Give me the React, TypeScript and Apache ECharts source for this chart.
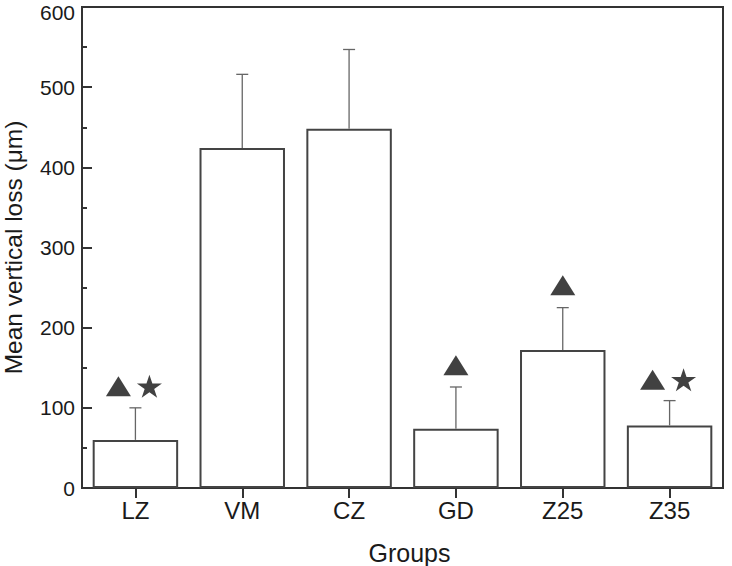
import React, { useEffect, useRef } from "react";
import * as echarts from "echarts";

const categories = ["LZ", "VM", "CZ", "GD", "Z25", "Z35"];
const means = [60, 424, 448, 74, 172, 78];
const sdUpper = [40, 92, 99, 52, 53, 31];
const yTicks = [0, 100, 200, 300, 400, 500, 600];
// significance markers: [categoryIndex, yValue]
const triangleSingle = [
  [3, 153],
  [4, 253],
];
const trianglePaired = [
  [0, 127],
  [5, 135],
];
const starPaired = [
  [0, 127],
  [5, 135],
];

const STAR =
  "path://M100,0 L122.45,69.1 L195.1,69.1 L136.3,111.8 L158.8,180.9 L100,138.2 L41.2,180.9 L63.7,111.8 L4.9,69.1 L77.55,69.1 Z";

const FONT = "'Liberation Sans', Arial, Helvetica, sans-serif";

export default function App() {
  const ref = useRef<HTMLDivElement>(null);
  useEffect(() => {
    if (!ref.current) return;
    const chart = echarts.init(ref.current, undefined, { renderer: "svg" });
    chart.setOption({
      animation: false,
      backgroundColor: "#ffffff",
      grid: {
        left: 82,
        right: 9,
        top: 7,
        bottom: 78,
        outerBoundsMode: "none",
        containLabel: false,
        show: true,
        borderColor: "#333",
        borderWidth: 2,
        backgroundColor: "transparent",
      },
      xAxis: {
        type: "category",
        data: categories,
        name: "Groups",
        nameLocation: "middle",
        nameGap: 52,
        nameTextStyle: { fontFamily: FONT, fontSize: 25, color: "#1a1a1a", padding: [0, 0, 0, 14] },
        axisLine: { lineStyle: { color: "#333", width: 2 } },
        axisTick: { show: true, alignWithLabel: true, inside: false, length: 10, lineStyle: { color: "#333", width: 2 } },
        axisLabel: { fontFamily: FONT, fontSize: 24, color: "#1a1a1a", margin: 10 },
        splitLine: { show: false },
      },
      yAxis: {
        type: "value",
        min: 0,
        max: 600,
        interval: 100,
        name: "Mean vertical loss (μm)",
        nameLocation: "middle",
        nameGap: 56,
        nameTextStyle: { fontFamily: FONT, fontSize: 24.5, color: "#1a1a1a" },
        axisLine: { show: true, lineStyle: { color: "#333", width: 2 } },
        axisTick: { show: true, inside: true, length: 10, lineStyle: { color: "#333", width: 2 } },
        minorTick: { show: true, splitNumber: 2, length: 5, lineStyle: { color: "#333", width: 2 } },
        axisLabel: {
          fontFamily: FONT,
          fontSize: 21,
          color: "#1a1a1a",
          margin: 7,
          formatter: (v: number) =>
            v === 600 ? "{top|600}" : yTicks.includes(v) ? String(v) : "",
          rich: {
            top: {
              fontFamily: FONT,
              fontSize: 21,
              color: "#1a1a1a",
              padding: [10, 0, 0, 0],
            },
          },
        },
        splitLine: { show: false },
      },
      series: [
        {
          type: "bar",
          data: means,
          barWidth: "80%",
          itemStyle: { color: "#ffffff", borderColor: "#444", borderWidth: 2 },
          z: 2,
        },
        {
          type: "custom",
          data: means.map((m, i) => [i, m, m + sdUpper[i]]),
          renderItem: (params: any, api: any) => {
            const i = api.value(0);
            const lo = api.coord([i, api.value(1)]);
            const hi = api.coord([i, api.value(2)]);
            const cap = 6;
            return {
              type: "group",
              children: [
                {
                  type: "line",
                  shape: { x1: lo[0], y1: lo[1], x2: hi[0], y2: hi[1] },
                  style: { stroke: "#666", lineWidth: 1.3 },
                },
                {
                  type: "line",
                  shape: { x1: hi[0] - cap, y1: hi[1], x2: hi[0] + cap, y2: hi[1] },
                  style: { stroke: "#666", lineWidth: 1.3 },
                },
              ],
            };
          },
          z: 3,
        },
        {
          type: "scatter",
          data: triangleSingle,
          symbol: "triangle",
          symbolSize: [25, 20],
          itemStyle: { color: "#111" },
          z: 4,
        },
        {
          type: "scatter",
          data: trianglePaired,
          symbol: "triangle",
          symbolSize: [25, 20],
          symbolOffset: [-17, 0],
          itemStyle: { color: "#111" },
          z: 4,
        },
        {
          type: "scatter",
          data: starPaired,
          symbol: STAR,
          symbolSize: [25, 23],
          symbolOffset: [14, 0],
          itemStyle: { color: "#111" },
          z: 4,
        },
      ],
    });
    return () => chart.dispose();
  }, []);
  return (
    <div
      ref={ref}
      style={{ position: "absolute", left: 0, top: 0, width: 732, height: 566 }}
    />
  );
}
